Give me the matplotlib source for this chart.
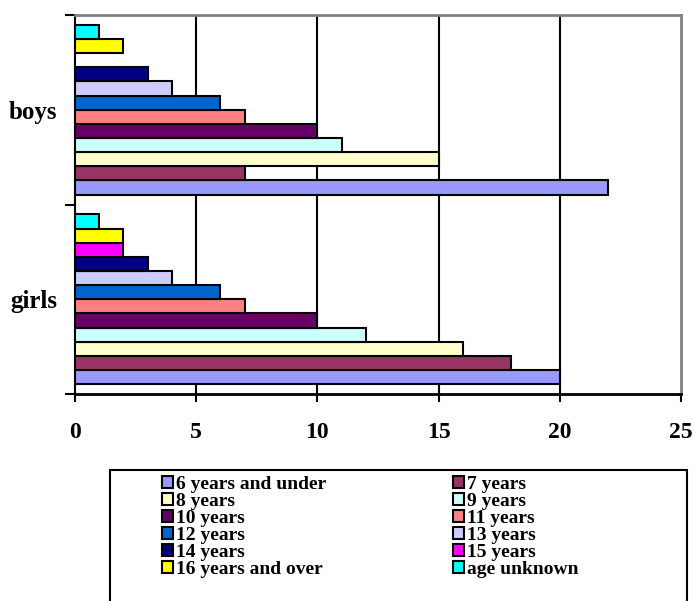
import numpy as np
import matplotlib.pyplot as plt
from matplotlib.patches import Rectangle

categories = ['girls', 'boys']
series = ['6 years and under', '7 years', '8 years', '9 years', '10 years',
          '11 years', '12 years', '13 years', '14 years', '15 years',
          '16 years and over', 'age unknown']
girls = [20, 18, 16, 12, 10, 7, 6, 4, 3, 2, 2, 1]
boys = [22, 7, 15, 11, 10, 7, 6, 4, 3, 0, 2, 1]
colors = ['#9999FF', '#993366', '#FFFFCC', '#CCFFFF', '#660066', '#FF8080',
          '#0066CC', '#CCCCFF', '#000080', '#FF00FF', '#FFFF00', '#00FFFF']

plt.rcParams['font.family'] = ['Liberation Serif', 'DejaVu Serif']
plt.rcParams['font.weight'] = 'bold'

fig = plt.figure(figsize=(6.94, 6.01), dpi=100)
ax = fig.add_axes([75 / 694, 1 - 394 / 601, 606 / 694, 379 / 601])

n = len(series)
group = 0.895
h = group / n
ypos = np.arange(len(categories))
handles = []
for i, name in enumerate(series):
    vals = [girls[i], boys[i]]
    off = -group / 2 + h * (i + 0.5)
    for j, v in enumerate(vals):
        if v == 0:
            continue
        b = ax.barh(ypos[j] + off, v, height=h, color=colors[i],
                    edgecolor='black', linewidth=1.5, zorder=3)
    handles.append(b)

ax.set_xlim(0, 25)
ax.set_ylim(-0.5, 1.5)
ax.set_xticks([0, 5, 10, 15, 20, 25])
ax.set_xticklabels(['0', '5', '10', '15', '20', '25'], fontsize=17, fontweight='bold')
ax.tick_params(axis='x', length=6, width=1.5, pad=14)
ax.set_yticks([-0.5, 0.5, 1.5])
ax.set_yticklabels([])
ax.tick_params(axis='y', length=7, width=1.5)
ax.set_yticks([0, 1], minor=True)
ax.set_yticklabels(categories, minor=True, fontsize=18, fontweight='bold')
ax.tick_params(axis='y', which='minor', length=0, pad=13)

for x in [5, 10, 15, 20]:
    ax.axvline(x, color='black', linewidth=1.5, zorder=1)

ax.spines['top'].set_color('#808080')
ax.spines['right'].set_color('#808080')
ax.spines['top'].set_linewidth(2)
ax.spines['right'].set_linewidth(2)
ax.spines['left'].set_linewidth(1.5)
ax.spines['bottom'].set_linewidth(2)

# legend frame drawn by hand
fig.patches.append(Rectangle((110 / 694, -0.01), 577 / 694, 1 - 470 / 601 + 0.01,
                             transform=fig.transFigure, fill=False,
                             edgecolor='black', linewidth=1.5))

order = [0, 2, 4, 6, 8, 10, 1, 3, 5, 7, 9, 11]
leg = fig.legend([handles[k] for k in order], [series[k] for k in order],
                 ncol=2, loc='upper left', bbox_to_anchor=(162 / 694, 1 - 476 / 601),
                 frameon=False, fontsize=14, handlelength=0.55, handleheight=0.55,
                 handletextpad=0.15, labelspacing=0.0, columnspacing=6.55,
                 borderpad=0, borderaxespad=0)

fig.savefig('out.png', dpi=100)
